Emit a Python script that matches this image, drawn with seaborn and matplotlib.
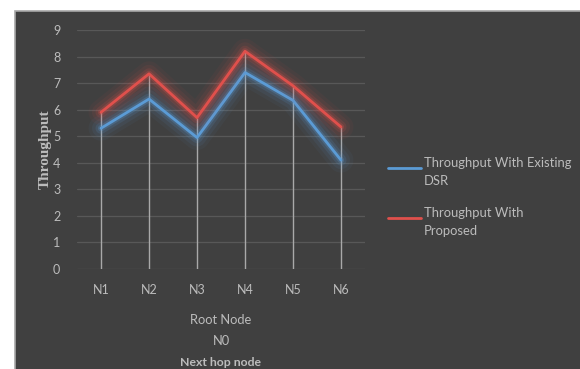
import matplotlib
matplotlib.use("Agg")
import matplotlib.pyplot as plt
import matplotlib.patheffects as pe
from matplotlib.patches import Rectangle
import numpy as np
import pandas as pd
import seaborn as sns

nodes = ["N1", "N2", "N3", "N4", "N5", "N6"]
existing_dsr = [5.3, 6.4, 4.95, 7.4, 6.35, 4.1]
proposed = [5.9, 7.35, 5.7, 8.2, 6.9, 5.35]
y_ticks = [0, 1, 2, 3, 4, 5, 6, 7, 8, 9]
series_names = ["Throughput With Existing\nDSR", "Throughput With\nProposed"]

sns.set_theme(style="dark")
plt.rcParams["font.family"] = ["Lato", "DejaVu Sans"]

BG = "#404040"
TXT = "#bcbcbc"
BLUE = "#5b9bd5"
RED = "#e0504c"

fig = plt.figure(figsize=(5.8, 3.69), dpi=100)
fig.patch.set_facecolor("white")
# dark chart area with a light rim
fig.patches.append(Rectangle((15 / 580, -0.05), 1.0, 1 - 11 / 369 + 0.05,
                             transform=fig.transFigure, facecolor=BG,
                             edgecolor="#a8a8a8", linewidth=1.2, zorder=-10))

ax = fig.add_axes([77 / 580, 1 - 269 / 369, (365 - 77) / 580, (269 - 30) / 369])
ax.set_facecolor("none")
ax.set_zorder(5)
for s in ax.spines.values():
    s.set_visible(False)

df = pd.DataFrame({
    "node": nodes * 2,
    "value": existing_dsr + proposed,
    "series": [series_names[0]] * len(nodes) + [series_names[1]] * len(nodes),
})
df["pos"] = np.tile(np.arange(len(nodes)), 2)

# horizontal gridlines
for t in y_ticks:
    ax.plot([-0.5, len(nodes) - 0.5], [t, t], color="#585858", lw=0.9, zorder=1)

# drop lines from the highest series down to zero
tops = np.maximum(existing_dsr, proposed)
ax.vlines(np.arange(len(nodes)), 0, tops, color="#a9a9a9", lw=1.0, zorder=2)

def glow(color):
    return [pe.Stroke(linewidth=18, foreground=color, alpha=0.05),
            pe.Stroke(linewidth=13, foreground=color, alpha=0.08),
            pe.Stroke(linewidth=8, foreground=color, alpha=0.14),
            pe.Stroke(linewidth=4.5, foreground=color, alpha=0.25),
            pe.Normal()]

n_before = len(ax.lines)
sns.lineplot(data=df, x="pos", y="value", hue="series",
             palette=[BLUE, RED], linewidth=2.0, ax=ax, legend=False,
             zorder=3)
for line, c in zip(ax.lines[n_before:], [BLUE, RED]):
    line.set_path_effects(glow(c))

ax.set_xlim(-0.5, len(nodes) - 0.5)
ax.set_ylim(0, 9)
ax.set_yticks(y_ticks)
ax.set_yticklabels([str(t) for t in y_ticks])
ax.set_xticks(np.arange(len(nodes)))
ax.set_xticklabels(nodes)
ax.tick_params(axis="both", colors=TXT, labelsize=9, length=0)
ax.tick_params(axis="y", pad=12)
ax.tick_params(axis="x", pad=11)
ax.grid(False)
ax.set_xlabel("")
ax.set_ylabel("Throughput", color=TXT, fontsize=11, fontweight="bold",
              family=["Liberation Serif", "DejaVu Serif"], labelpad=1)

fig.text(221 / 580, 1 - 320 / 369, "Root Node", color=TXT, fontsize=9.3,
         ha="center", va="center")
fig.text(221 / 580, 1 - 341 / 369, "N0", color=TXT, fontsize=9.3,
         ha="center", va="center")
fig.text(221 / 580, 1 - 363 / 369, "Next hop node", color=TXT, fontsize=8.8,
         fontweight="bold", ha="center", va="center")

# legend
for name, c, yl in zip(series_names, [BLUE, RED], [168, 218]):
    yf = 1 - yl / 369
    fig.add_artist(plt.Line2D([388 / 580, 421 / 580], [yf, yf],
                              transform=fig.transFigure, color=c, lw=2))
    fig.text(424 / 580, yf + 0.031, name, color=TXT, fontsize=9.4,
             ha="left", va="top", linespacing=1.65)

fig.savefig("out.png", dpi=100, facecolor=fig.get_facecolor())
